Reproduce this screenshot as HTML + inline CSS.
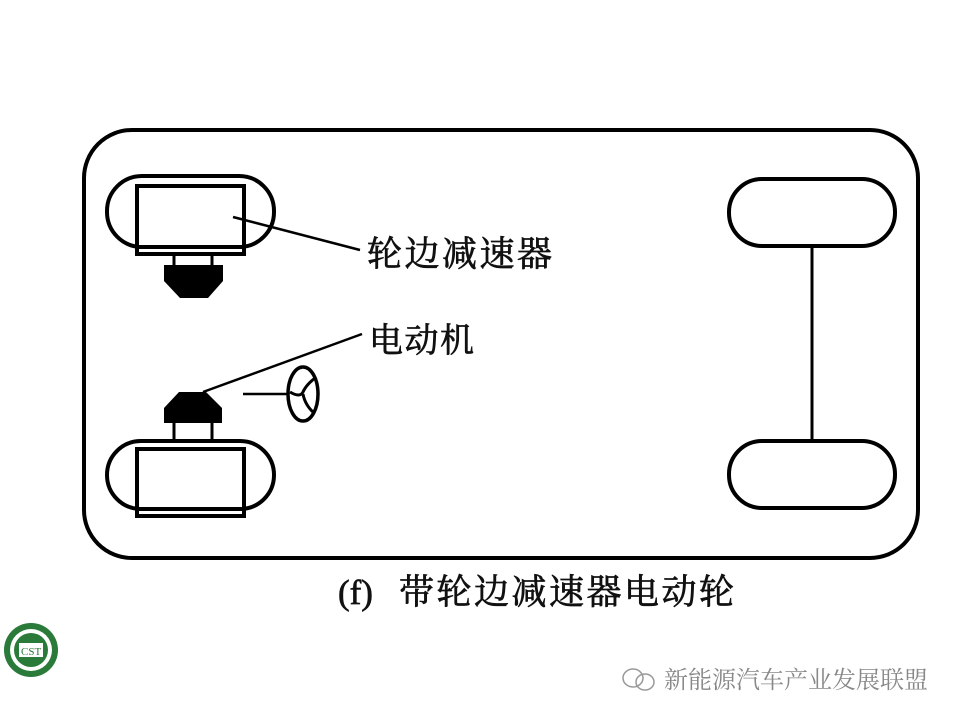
<!DOCTYPE html>
<html><head><meta charset="utf-8"><style>
body{margin:0;background:#fff;}
svg{display:block;}
text{font-family:"Liberation Serif","Noto Serif CJK SC",serif;fill:#111;}
.b{stroke:#111;stroke-width:0.7;}
</style></head><body>
<svg width="960" height="720" viewBox="0 0 960 720" xmlns="http://www.w3.org/2000/svg">
<rect width="960" height="720" fill="#fff"/>
<g fill="none" stroke="#000" stroke-width="4">
<rect x="84" y="130" width="834" height="428" rx="48"/>
<rect x="107" y="176" width="167" height="71" rx="35"/>
<rect x="137" y="186" width="107" height="61" fill="#fff"/>
<rect x="137" y="247" width="107" height="7"/>
<line x1="174" y1="254" x2="174" y2="266" stroke-width="3"/>
<line x1="212" y1="254" x2="212" y2="266" stroke-width="3"/>
<rect x="107" y="441" width="167" height="68" rx="34"/>
<rect x="137" y="449" width="107" height="60" fill="#fff"/>
<rect x="137" y="509" width="107" height="7"/>
<line x1="174" y1="423" x2="174" y2="441" stroke-width="3"/>
<line x1="212" y1="423" x2="212" y2="441" stroke-width="3"/>
<rect x="729" y="179" width="166" height="67" rx="33"/>
<rect x="729" y="441" width="166" height="67" rx="33"/>
<line x1="812" y1="246" x2="812" y2="441" stroke-width="3"/>
<line x1="233" y1="217" x2="360" y2="250" stroke-width="2.5"/>
<line x1="203" y1="392" x2="362" y2="334" stroke-width="2.5"/>
<line x1="243" y1="394" x2="288" y2="394" stroke-width="2.5"/>
<ellipse cx="303" cy="394" rx="15" ry="27" stroke-width="3.5"/>
<path d="M290 392 Q300 398 303 392 Q306 385 315 378 M303 394 Q305 405 314 413" stroke-width="3"/>
</g>
<path d="M164 265 H223 V281 L208 298 H180 L164 281 Z" fill="#000"/>
<path d="M179 392 H206 L222 408 V423 H164 V408 Z" fill="#000"/>
<text class="b" x="367" y="266" font-size="35" letter-spacing="2.5">轮边减速器</text>
<text class="b" x="369" y="352" font-size="34" letter-spacing="1.5">电动机</text>
<text class="b" x="338" y="604" font-size="35">(f)</text>
<text class="b" x="399" y="604" font-size="35" letter-spacing="2.5">带轮边减速器电动轮</text>
<circle cx="31" cy="650" r="27" fill="#2a7a3a"/>
<circle cx="31" cy="650" r="21" fill="#fff"/>
<circle cx="31" cy="650" r="17" fill="#2a7a3a"/>
<rect x="19" y="643" width="24" height="14" fill="#fff"/>
<text x="21" y="655" font-size="11" font-family="Liberation Sans" style="fill:#2a7a3a">CST</text>
<ellipse cx="633" cy="678" rx="10" ry="9" fill="none" stroke="#999" stroke-width="1.5"/>
<ellipse cx="645" cy="682" rx="9" ry="8" fill="none" stroke="#999" stroke-width="1.5"/>
<text x="664" y="688" font-size="24" font-family="Liberation Sans,Noto Sans CJK SC,sans-serif" style="fill:#888">新能源汽车产业发展联盟</text>
</svg>
</body></html>
